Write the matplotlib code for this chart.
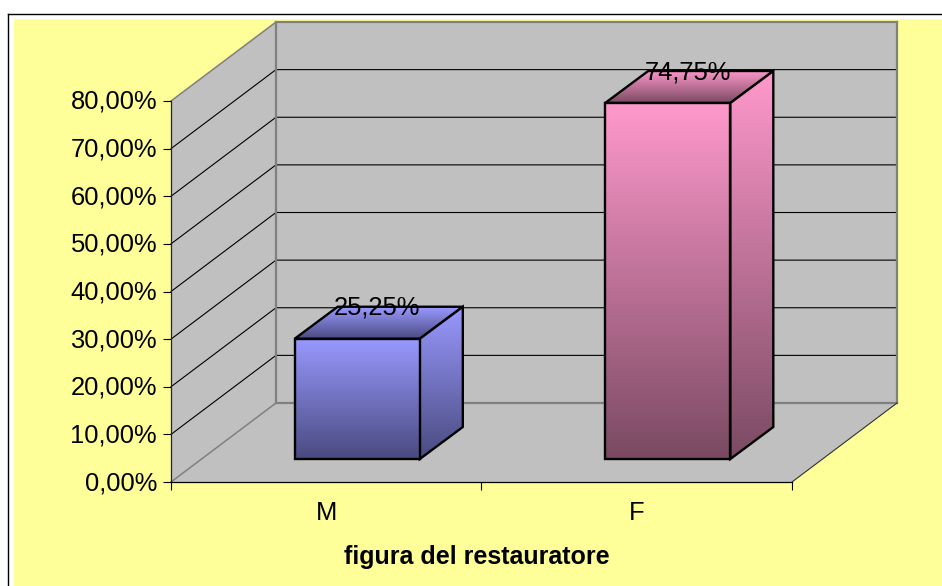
import matplotlib
matplotlib.use('Agg')
import matplotlib.pyplot as plt
import numpy as np
from matplotlib.patches import Polygon, Rectangle
from matplotlib.transforms import IdentityTransform, Affine2D

categories = ['M', 'F']
values = [25.25, 74.75]
value_labels = ['25,25%', '74,75%']
y_ticks = [0, 10, 20, 30, 40, 50, 60, 70, 80]
y_labels = ['0,00%', '10,00%', '20,00%', '30,00%', '40,00%', '50,00%', '60,00%', '70,00%', '80,00%']
top_colors = ['#9999FF', '#FF99CC']
bottom_colors = ['#4A4A80', '#7A4A62']

plt.rcParams['font.family'] = ['Liberation Sans', 'DejaVu Sans']

W, H = 942, 586
fig = plt.figure(figsize=(W / 100, H / 100), dpi=100, facecolor='white')

# marco y fondo amarillo
fig.add_artist(Rectangle((14 / W, 0), 1, 1 - 19 / H, transform=fig.transFigure,
                         facecolor='#FFFF99', edgecolor='none', zorder=-1))
fig.add_artist(plt.Line2D([8 / W, 8 / W], [0, 1 - 13.5 / H], color='black', lw=1, zorder=-1))
fig.add_artist(plt.Line2D([8 / W, 1], [1 - 13.5 / H, 1 - 13.5 / H], color='black', lw=1, zorder=-1))

ax = fig.add_axes([171 / W, (H - 482) / H, 621 / W, 381 / H], facecolor='none')
ax.set_xlim(0, 2)
ax.set_ylim(0, 80)

ident = IdentityTransform()
wall_dx, wall_dy = 105, 79
bar_dx, bar_dy = 31, 23
side_dx, side_dy = 43, 32
bar_width = 0.403


def px(x, v, dx=0, dy=0):
    p = ax.transData.transform((x, v))
    return (p[0] + dx, p[1] + dy)


def poly(points, **kw):
    patch = Polygon(points, closed=True, transform=ident, clip_on=False, **kw)
    ax.add_patch(patch)
    return patch


def gradient(points, c_top, c_bottom, z):
    # degradado vertical recortado a la cara de la barra
    pts = np.array(points)
    c1 = np.array(matplotlib.colors.to_rgb(c_top))
    c2 = np.array(matplotlib.colors.to_rgb(c_bottom))
    t = np.linspace(0, 1, 256)[:, None]
    img = (c1 * (1 - t) + c2 * t)[:, None, :]
    im = ax.imshow(img, extent=(pts[:, 0].min(), pts[:, 0].max(), pts[:, 1].min(), pts[:, 1].max()),
                   transform=ident, aspect='auto', zorder=z, interpolation='bilinear', origin='upper')
    clip = poly(points, facecolor='none', edgecolor='black', lw=1.7, zorder=z + 0.1)
    im.set_clip_box(fig.bbox)
    im.set_clip_path(clip)


# paredes y suelo
top = y_ticks[-1]
poly([px(0, 0), px(0, top), px(0, top, wall_dx, wall_dy), px(0, 0, wall_dx, wall_dy)],
     facecolor='#C0C0C0', edgecolor='none', zorder=0.5)
poly([px(0, 0, wall_dx, wall_dy), px(0, top, wall_dx, wall_dy), px(2, top, wall_dx, wall_dy), px(2, 0, wall_dx, wall_dy)],
     facecolor='#C0C0C0', edgecolor='none', zorder=0.5)
poly([px(0, 0), px(2, 0), px(2, 0, wall_dx, wall_dy), px(0, 0, wall_dx, wall_dy)],
     facecolor='#C0C0C0', edgecolor='none', zorder=0.5)

# rejilla
for v in y_ticks[1:-1]:
    a, b, c = px(0, v), px(0, v, wall_dx, wall_dy), px(2, v, wall_dx, wall_dy)
    ax.plot([a[0], b[0], c[0]], [a[1], b[1], c[1]], color='black', lw=0.8, transform=ident, clip_on=False, zorder=1)

# bordes grises
gray = '#808080'
for p, q, lw in [(px(0, top), px(0, top, wall_dx, wall_dy), 1.1),
                 (px(0, 0), px(0, 0, wall_dx, wall_dy), 1.1),
                 (px(0, 0, wall_dx, wall_dy), px(0, top, wall_dx, wall_dy), 1.6),
                 (px(0, top, wall_dx, wall_dy), px(2, top, wall_dx, wall_dy), 1.6),
                 (px(2, top, wall_dx, wall_dy), px(2, 0, wall_dx, wall_dy), 1.6),
                 (px(0, 0, wall_dx, wall_dy), px(2, 0, wall_dx, wall_dy), 1.6)]:
    ax.plot([p[0], q[0]], [p[1], q[1]], color=gray, lw=lw, transform=ident, clip_on=False, zorder=1.2)
p, q = px(2, 0), px(2, 0, wall_dx, wall_dy)
ax.plot([p[0], q[0]], [p[1], q[1]], color='#303030', lw=0.8, transform=ident, clip_on=False, zorder=1.2)

# barras
for i, v in enumerate(values):
    x0 = i + 0.5 - bar_width / 2
    x1 = i + 0.5 + bar_width / 2
    fl = px(x0, 0, bar_dx, bar_dy)
    fr = px(x1, 0, bar_dx, bar_dy)
    tl = px(x0, v, bar_dx, bar_dy)
    tr = px(x1, v, bar_dx, bar_dy)
    back_tl = (tl[0] + side_dx, tl[1] + side_dy)
    back_tr = (tr[0] + side_dx, tr[1] + side_dy)
    back_br = (fr[0] + side_dx, fr[1] + side_dy)
    gradient([tl, tr, back_tr, back_tl], top_colors[i], bottom_colors[i], 3)
    gradient([fr, tr, back_tr, back_br], top_colors[i], bottom_colors[i], 3.2)
    gradient([fl, fr, tr, tl], top_colors[i], bottom_colors[i], 3.4)
    lx, ly = px(i + 0.5, v, 51, 54)
    ax.text(lx, ly, value_labels[i], transform=ident, ha='center', va='center', fontsize=18.4,
            color='black', zorder=5, clip_on=False)

ax.set_xlim(0, 2)
ax.set_ylim(0, 80)
ax.set_aspect('auto')

# ejes
ax.spines['top'].set_visible(False)
ax.spines['right'].set_visible(False)
ax.spines['left'].set_color('#202020')
ax.spines['bottom'].set_color('black')
ax.spines['left'].set_linewidth(0.9)
ax.spines['bottom'].set_linewidth(0.9)
ax.set_yticks(y_ticks)
ax.set_yticklabels(y_labels, fontsize=18.4)
ax.set_xticks([0, 1, 2])
ax.set_xticklabels([])
ax.set_xticks([0.5, 1.5], minor=True)
ax.set_xticklabels(categories, minor=True, fontsize=18.4)
ax.tick_params(axis='y', length=5.8, width=0.8, pad=4.2)
ax.tick_params(axis='x', which='major', length=5.8, width=0.8)
ax.tick_params(axis='x', which='minor', length=0, pad=14)
for lbl in ax.get_yticklabels():
    lbl.set_transform(lbl.get_transform() + Affine2D().translate(0, 1.5))

fig.text(477 / W, 1 - 557 / H, 'figura del restauratore', ha='center', va='center',
         fontsize=18, fontweight='bold', color='black')

fig.savefig('out.png', dpi=100)
